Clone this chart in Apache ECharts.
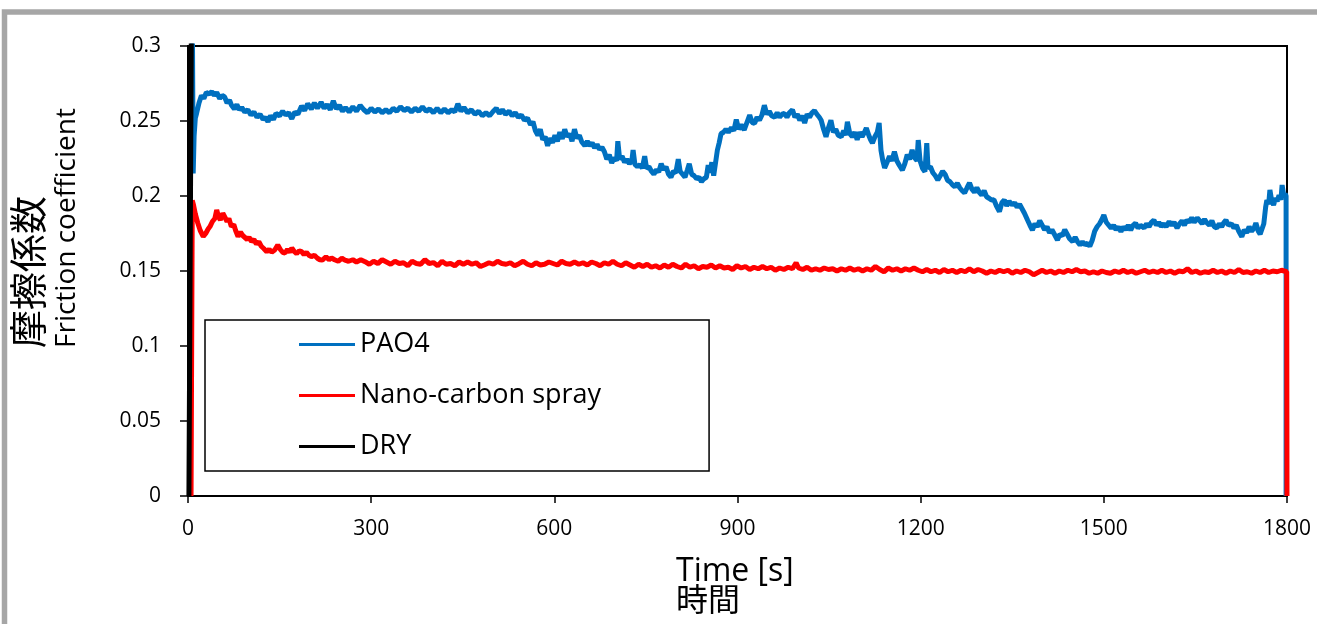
<!DOCTYPE html>
<html>
<head>
<meta charset="utf-8">
<script src="https://cdn.jsdelivr.net/npm/echarts@6/dist/echarts.min.js"></script>
<style>html,body{margin:0;padding:0;background:#fff;}#c{width:1317px;height:624px;}</style>
</head>
<body>
<div id="c"></div>
<script>
// ---- data ----
const xTicks = [0, 300, 600, 900, 1200, 1500, 1800];
const yTicks = [0, 0.05, 0.1, 0.15, 0.2, 0.25, 0.3];
const seriesNames = ['PAO4', 'Nano-carbon spray', 'DRY'];

const pao4 = [[7,0.33],[8.5,0.215],[10,0.24],[12,0.252],[14,0.255],[18,0.262],[22,0.267],[26,0.265],[30,0.269],[35,0.268],[39,0.2696],[43,0.267],[47,0.269],[52,0.265],[56,0.267],[60,0.266],[64,0.262],[68,0.264],[71,0.2607],[76,0.258],[80,0.261],[84,0.2575],[88,0.259],[93,0.256],[98,0.2575],[103,0.254],[108,0.256],[113,0.2525],[118,0.2545],[123,0.251],[127,0.2525],[131,0.2495],[135,0.2535],[140,0.251],[144,0.255],[150,0.2535],[155,0.2565],[160,0.254],[165,0.2555],[170,0.2515],[175,0.256],[180,0.2545],[186,0.26],[191,0.257],[196,0.2615],[202,0.258],[207,0.262],[212,0.2585],[218,0.2625],[223,0.2585],[228,0.261],[233,0.2575],[238,0.2635],[243,0.258],[248,0.2605],[253,0.2565],[258,0.259],[264,0.256],[270,0.2595],[276,0.2565],[282,0.2605],[288,0.2575],[294,0.2555],[300,0.2585],[306,0.256],[312,0.258],[318,0.2555],[324,0.2575],[330,0.2555],[336,0.2585],[342,0.2565],[348,0.2595],[354,0.257],[360,0.2585],[366,0.256],[372,0.2585],[378,0.2565],[384,0.2595],[390,0.2565],[396,0.258],[402,0.2555],[408,0.2585],[414,0.2555],[420,0.258],[426,0.2555],[432,0.2575],[437,0.256],[442,0.2615],[447,0.2565],[452,0.259],[458,0.2555],[464,0.2575],[470,0.2545],[476,0.2565],[482,0.2535],[488,0.2555],[494,0.2535],[500,0.2565],[505,0.2585],[510,0.255],[515,0.2575],[520,0.2545],[526,0.2565],[531,0.2535],[536,0.2555],[541,0.2525],[546,0.254],[551,0.2505],[556,0.252],[561,0.2475],[565,0.2495],[569,0.2435],[573,0.2405],[577,0.2445],[581,0.2375],[585,0.2395],[589,0.2335],[593,0.2385],[597,0.2355],[601,0.2405],[605,0.2365],[609,0.2425],[613,0.238],[617,0.2445],[621,0.2395],[625,0.2415],[629,0.2365],[633,0.2445],[637,0.2385],[641,0.2405],[645,0.236],[650,0.2335],[654,0.2365],[658,0.2335],[662,0.2355],[666,0.232],[670,0.2345],[674,0.231],[678,0.2325],[682,0.2295],[686,0.2245],[690,0.2275],[694,0.222],[698,0.2255],[702,0.2235],[704,0.2365],[707,0.2245],[711,0.2265],[715,0.2225],[719,0.2245],[723,0.2215],[727,0.2235],[729,0.2307],[732,0.221],[736,0.2195],[740,0.221],[744,0.2185],[748,0.2265],[751,0.2185],[755,0.2195],[759,0.2165],[763,0.2145],[767,0.2175],[771,0.216],[775,0.2215],[779,0.2175],[783,0.2195],[787,0.2145],[791,0.2125],[795,0.2165],[799,0.2155],[803,0.2245],[806,0.2165],[810,0.2145],[814,0.2125],[818,0.2175],[821,0.2215],[825,0.2145],[829,0.2135],[833,0.2115],[837,0.2125],[841,0.2095],[845,0.2115],[849,0.2125],[852,0.2205],[855,0.2155],[858,0.2225],[861,0.2135],[864,0.2125],[867,0.2305],[870,0.2355],[873,0.2415],[877,0.2425],[881,0.2445],[885,0.2425],[890,0.2455],[894,0.2435],[898,0.251],[902,0.2445],[906,0.2475],[911,0.244],[915,0.2485],[920,0.254],[924,0.249],[928,0.2485],[932,0.2525],[936,0.2505],[940,0.254],[944,0.2605],[948,0.2545],[952,0.2565],[956,0.2535],[961,0.2525],[965,0.2555],[969,0.2525],[973,0.2545],[977,0.255],[981,0.2525],[985,0.2555],[990,0.2575],[994,0.2525],[998,0.2545],[1002,0.2505],[1006,0.2535],[1010,0.2487],[1014,0.2545],[1018,0.2525],[1022,0.2555],[1026,0.257],[1030,0.2545],[1034,0.2525],[1037,0.2505],[1041,0.2445],[1045,0.2395],[1049,0.2455],[1053,0.2505],[1057,0.2425],[1061,0.2445],[1065,0.2405],[1070,0.2395],[1074,0.2435],[1077,0.2405],[1080,0.2495],[1084,0.2415],[1088,0.2395],[1092,0.2425],[1096,0.2375],[1100,0.2425],[1104,0.2395],[1108,0.2425],[1111,0.2453],[1115,0.2405],[1118,0.2375],[1121,0.2353],[1125,0.2395],[1129,0.2425],[1132,0.2487],[1135,0.2305],[1138,0.2235],[1141,0.2187],[1145,0.2225],[1149,0.2265],[1153,0.2235],[1157,0.2296],[1161,0.2235],[1165,0.2205],[1170,0.2173],[1174,0.2215],[1178,0.2275],[1182,0.2245],[1186,0.2307],[1190,0.2255],[1194,0.2235],[1196,0.2373],[1199,0.2235],[1203,0.2185],[1207,0.2162],[1210,0.2353],[1212,0.2187],[1216,0.2195],[1220,0.2155],[1224,0.2135],[1228,0.2107],[1232,0.2135],[1236,0.2165],[1240,0.2145],[1244,0.2105],[1248,0.2095],[1252,0.2075],[1256,0.2062],[1260,0.2085],[1264,0.2055],[1268,0.2035],[1272,0.202],[1276,0.2055],[1280,0.2087],[1284,0.2045],[1288,0.2025],[1292,0.2055],[1296,0.2025],[1300,0.2007],[1304,0.2035],[1308,0.1995],[1312,0.1985],[1316,0.1973],[1320,0.1975],[1324,0.1935],[1329,0.1896],[1333,0.1955],[1337,0.1973],[1341,0.1935],[1345,0.1965],[1350,0.194],[1354,0.1955],[1358,0.1925],[1362,0.1945],[1366,0.1915],[1370,0.1885],[1375,0.184],[1379,0.1805],[1383,0.1773],[1387,0.1815],[1391,0.1795],[1395,0.1835],[1399,0.1805],[1403,0.1775],[1407,0.1795],[1411,0.1755],[1415,0.1775],[1419,0.1745],[1424,0.1707],[1428,0.1745],[1432,0.1735],[1436,0.1775],[1440,0.1745],[1444,0.1715],[1449,0.1696],[1453,0.1725],[1457,0.1695],[1461,0.1673],[1465,0.1695],[1469,0.1675],[1473,0.1685],[1477,0.1665],[1481,0.1705],[1485,0.1765],[1489,0.1795],[1493,0.1815],[1497,0.1845],[1500,0.1873],[1504,0.1825],[1508,0.1805],[1512,0.1785],[1516,0.1805],[1520,0.1775],[1524,0.1795],[1528,0.1762],[1532,0.1795],[1536,0.1775],[1540,0.1805],[1544,0.1773],[1548,0.1805],[1552,0.182],[1556,0.1785],[1560,0.1805],[1566,0.1787],[1570,0.1815],[1574,0.1795],[1578,0.1825],[1582,0.184],[1586,0.1805],[1590,0.1825],[1594,0.1796],[1598,0.1815],[1602,0.1795],[1607,0.1829],[1611,0.1805],[1615,0.1825],[1620,0.1787],[1624,0.1815],[1628,0.1835],[1632,0.1805],[1636,0.184],[1640,0.1825],[1644,0.1855],[1648,0.1825],[1653,0.1853],[1657,0.1835],[1661,0.1815],[1665,0.1845],[1669,0.182],[1673,0.1805],[1677,0.1835],[1681,0.1795],[1685,0.1787],[1689,0.1815],[1693,0.1795],[1697,0.1825],[1700,0.184],[1704,0.1805],[1709,0.1815],[1713,0.1787],[1717,0.1805],[1721,0.1765],[1726,0.1729],[1730,0.1775],[1734,0.1755],[1738,0.1796],[1742,0.1765],[1746,0.1785],[1749,0.182],[1753,0.1765],[1756,0.1745],[1759,0.174],[1762,0.1815],[1765,0.1925],[1767,0.1973],[1770,0.1945],[1772,0.204],[1775,0.1965],[1778,0.194],[1781,0.1985],[1784,0.1965],[1787,0.2005],[1790,0.1975],[1792,0.2073],[1795,0.1995],[1797,0.2015],[1798.5,0.2],[1798.5,0]];

const nano = [[5,0],[7,0.197],[9,0.194],[12,0.188],[16,0.182],[20,0.177],[25,0.173],[29,0.175],[33,0.178],[36,0.1796],[40,0.183],[44,0.185],[47,0.1907],[50,0.186],[53,0.184],[57,0.1885],[60,0.1873],[64,0.183],[67,0.185],[71,0.1796],[75,0.181],[78,0.177],[82,0.1729],[86,0.176],[90,0.1735],[93,0.174],[97,0.171],[100,0.1725],[104,0.1696],[108,0.171],[112,0.168],[116,0.1695],[120,0.1665],[124,0.165],[129,0.1629],[133,0.1645],[137,0.1625],[142,0.164],[147,0.1673],[151,0.1645],[155,0.1625],[159,0.162],[163,0.1645],[167,0.1625],[170,0.1653],[174,0.163],[178,0.1615],[182,0.1635],[186,0.1629],[190,0.161],[194,0.1625],[198,0.1605],[202,0.1596],[207,0.1605],[212,0.1585],[216,0.1575],[220,0.1573],[226,0.1595],[231,0.1575],[235,0.1587],[240,0.1575],[246,0.1565],[252,0.1585],[257,0.1573],[263,0.1565],[270,0.1575],[276,0.156],[283,0.1575],[290,0.1562],[297,0.1545],[304,0.1565],[311,0.155],[318,0.1575],[325,0.156],[332,0.1545],[339,0.1565],[346,0.155],[353,0.1555],[360,0.1535],[367,0.1565],[374,0.155],[381,0.1545],[388,0.1575],[395,0.155],[402,0.1556],[409,0.1535],[416,0.1565],[423,0.1545],[430,0.155],[437,0.1535],[444,0.156],[451,0.1545],[458,0.156],[465,0.1545],[472,0.1555],[479,0.153],[486,0.1542],[493,0.1555],[500,0.1545],[507,0.1565],[514,0.155],[521,0.1545],[528,0.1555],[535,0.1535],[542,0.1549],[549,0.1565],[556,0.1545],[563,0.1535],[570,0.1555],[577,0.154],[584,0.1545],[591,0.156],[598,0.155],[605,0.154],[612,0.1565],[619,0.155],[626,0.1545],[633,0.156],[640,0.1545],[647,0.1555],[654,0.154],[661,0.156],[668,0.155],[675,0.1535],[682,0.1555],[689,0.1545],[696,0.1565],[703,0.1545],[710,0.1535],[717,0.1555],[724,0.154],[731,0.1525],[738,0.1545],[745,0.153],[752,0.1545],[759,0.1525],[766,0.1535],[773,0.152],[780,0.154],[787,0.1525],[794,0.1545],[801,0.153],[808,0.152],[815,0.1545],[822,0.1525],[829,0.1535],[836,0.1515],[843,0.153],[850,0.1525],[857,0.154],[864,0.152],[871,0.1535],[878,0.152],[885,0.1525],[892,0.151],[899,0.1535],[906,0.152],[913,0.153],[920,0.151],[927,0.1525],[934,0.1515],[941,0.153],[948,0.1515],[955,0.1525],[962,0.1505],[969,0.152],[976,0.151],[983,0.1525],[990,0.1515],[996,0.1555],[1000,0.152],[1007,0.151],[1014,0.1525],[1021,0.1505],[1028,0.1515],[1035,0.1505],[1042,0.152],[1049,0.151],[1056,0.1515],[1063,0.15],[1070,0.1515],[1077,0.1505],[1084,0.152],[1091,0.1505],[1098,0.1515],[1105,0.15],[1112,0.1515],[1119,0.1505],[1126,0.153],[1133,0.151],[1140,0.1495],[1147,0.152],[1154,0.1505],[1161,0.1515],[1168,0.15],[1175,0.1515],[1182,0.1505],[1189,0.152],[1196,0.1505],[1203,0.1495],[1210,0.151],[1217,0.1495],[1224,0.1505],[1231,0.149],[1238,0.151],[1245,0.1495],[1252,0.1505],[1259,0.149],[1266,0.1505],[1273,0.1495],[1280,0.1515],[1287,0.1495],[1294,0.151],[1301,0.15],[1308,0.1485],[1315,0.15],[1322,0.149],[1329,0.1505],[1336,0.1495],[1343,0.1505],[1350,0.1485],[1357,0.15],[1364,0.149],[1371,0.1505],[1378,0.1495],[1385,0.1475],[1392,0.149],[1399,0.1505],[1406,0.149],[1413,0.15],[1420,0.1485],[1427,0.15],[1434,0.149],[1441,0.1505],[1448,0.1495],[1455,0.151],[1462,0.1495],[1469,0.15],[1476,0.1485],[1483,0.1495],[1490,0.1485],[1497,0.15],[1504,0.149],[1511,0.1485],[1518,0.15],[1525,0.149],[1532,0.1505],[1539,0.149],[1546,0.15],[1553,0.1485],[1560,0.1495],[1567,0.1505],[1574,0.149],[1581,0.15],[1588,0.149],[1595,0.1505],[1602,0.149],[1609,0.15],[1616,0.1485],[1623,0.15],[1630,0.1495],[1637,0.1515],[1644,0.149],[1651,0.15],[1658,0.1485],[1665,0.1495],[1672,0.149],[1679,0.1505],[1686,0.149],[1693,0.15],[1700,0.1485],[1707,0.15],[1714,0.149],[1721,0.151],[1728,0.149],[1735,0.1495],[1742,0.1485],[1749,0.15],[1756,0.149],[1763,0.1505],[1770,0.149],[1777,0.15],[1784,0.1495],[1791,0.1505],[1799.5,0.1495],[1800,0]];

const dryTime = [1.5, 6, 7];
const dryVal = [0, 0.35, 0.4];

const colors = ['#0070C0', '#FF0000', '#000000'];
const xTitleLines = ['Time [s]', '時間'];
const yTitleLines = ['摩擦係数', 'Friction coefficient'];

// ---- chart ----
const dry = dryTime.map((t, i) => [t, dryVal[i]]);
const chart = echarts.init(document.getElementById('c'), null, {renderer: 'canvas'});
const FONT = "'Open Sans', 'Noto Sans CJK JP', sans-serif";
const mkSeries = (name, data, color) => ({
  name, type: 'line', data, showSymbol: false, symbol: 'none', clip: true,
  lineStyle: {color, width: 5}, itemStyle: {color}
});
chart.setOption({
  animation: false,
  backgroundColor: '#ffffff',
  grid: {left: 188, right: 30, top: 46, bottom: 128, show: true, borderColor: '#000', borderWidth: 2, backgroundColor: 'transparent'},
  xAxis: {
    type: 'value', min: xTicks[0], max: xTicks[xTicks.length - 1], interval: xTicks[1] - xTicks[0],
    splitLine: {show: false},
    axisLine: {lineStyle: {color: '#000', width: 2}},
    axisTick: {show: true, inside: false, length: 7, lineStyle: {color: '#000', width: 1.5}},
    axisLabel: {color: '#000', fontSize: 21, fontFamily: FONT, margin: 23, formatter: v => String(v)}
  },
  yAxis: {
    type: 'value', min: yTicks[0], max: yTicks[yTicks.length - 1], interval: yTicks[1] - yTicks[0],
    splitLine: {show: false},
    axisLine: {show: true, lineStyle: {color: '#000', width: 2}},
    axisTick: {show: true, inside: false, length: 8, lineStyle: {color: '#000', width: 1.5}},
    axisLabel: {color: '#000', fontSize: 21, fontFamily: FONT, margin: 27,
      formatter: v => String(+v.toFixed(2))}
  },
  legend: {
    data: seriesNames, orient: 'vertical', left: 205, top: 320,
    icon: 'rect', itemWidth: 56, itemHeight: 3, itemGap: 24,
    borderColor: '#000', borderWidth: 1.5, padding: [11, 108, 11, 94],
    textStyle: {color: '#000', fontSize: 27, fontFamily: FONT, lineHeight: 27}
  },
  graphic: [
    {type: 'rect', shape: {x: 4.5, y: 12, width: 2000, height: 2000},
     style: {fill: 'none', stroke: '#a6a6a6', lineWidth: 5.5}, silent: true, z: -10},
    {type: 'text', x: 676, y: 557, silent: true,
     style: {text: xTitleLines.join('\n'), font: "32px " + FONT, fill: '#000', align: 'left', verticalAlign: 'top', textAlign: 'left', textVerticalAlign: 'top', lineHeight: 30}},
    {type: 'text', x: 11, y: 348, rotation: Math.PI / 2, silent: true,
     style: {text: '{a|' + yTitleLines[0] + '}\n{b|' + yTitleLines[1] + '}', fill: '#000', align: 'left', verticalAlign: 'top', textAlign: 'left', textVerticalAlign: 'top',
       rich: {a: {fontSize: 38, fontFamily: FONT, lineHeight: 40, fill: '#000'}, b: {fontSize: 28, fontFamily: FONT, lineHeight: 32, fill: '#000'}}}}
  ],
  series: [
    mkSeries(seriesNames[0], pao4, colors[0]),
    mkSeries(seriesNames[1], nano, colors[1]),
    mkSeries(seriesNames[2], dry, colors[2])
  ]
});
</script>
</body>
</html>
